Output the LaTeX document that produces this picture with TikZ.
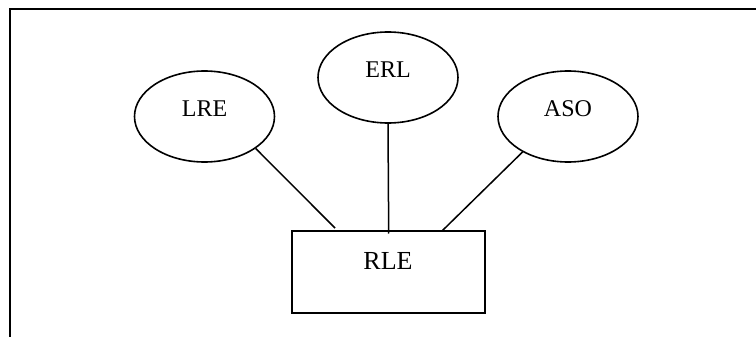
\documentclass[tikz,border=0pt]{standalone}
\usepackage{fontspec}
\setmainfont{Liberation Serif}
\usetikzlibrary{shapes.geometric}
\begin{document}
\begin{tikzpicture}[x=1pt,y=-1pt,
  ent/.style={ellipse,draw,line width=1.6pt,minimum width=140pt,minimum height=91pt,inner sep=0pt},
  lbl/.style={font=\fontsize{24}{26}\selectfont,inner sep=0pt},
  conn/.style={line width=1.5pt}]
\useasboundingbox (0,0) rectangle (756,337);
\draw[line width=2pt] (10,337) -- (10,9.5) -- (756,9.5);
\node[ent] (lre) at (204.5,116.5) {};
\node[lbl] (lret) at (204.5,108.5) {LRE};
\node[ent] (erl) at (388,77.5) {};
\node[lbl] (erlt) at (388,70) {ERL};
\node[ent] (aso) at (568,116.5) {};
\node[lbl] (asot) at (568,108.5) {ASO};
\node[draw,line width=1.7pt,minimum width=193pt,minimum height=81.5pt,inner sep=0pt] (rle) at (388.5,272) {};
\node[font=\fontsize{26}{28}\selectfont,inner sep=0pt] (rlet) at (388,261) {RLE};
\coordinate (p1) at (335,228);
\coordinate (p2) at (388.7,233.5);
\coordinate (p3) at (442.7,230.3);
\draw[conn] (lre.-32.3) -- (p1);
\draw[conn] (erl.south) -- (p2);
\draw[conn] (aso.218) -- (p3);
\end{tikzpicture}
\end{document}
